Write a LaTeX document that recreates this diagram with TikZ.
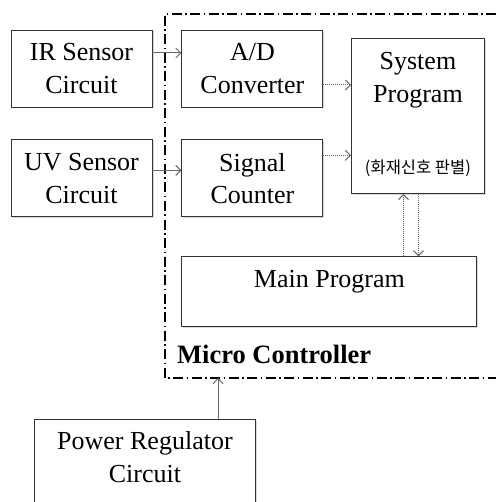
\documentclass[tikz,border=0pt]{standalone}
\usepackage{fontspec}
\setmainfont{Liberation Serif}
\newfontfamily\krfont{Noto Sans CJK KR}
\usetikzlibrary{arrows.meta, positioning, shadows}

\begin{document}
\begin{tikzpicture}[
  x=1pt, y=-1pt,
  node distance=32pt and 29pt,
  box/.style    = {rectangle, draw=black!80, line width=0.9pt, fill=white,
                   drop shadow={shadow xshift=1.5pt, shadow yshift=-1.5pt,
                                opacity=0.3},
                   inner sep=0pt},
  block/.style  = {box, minimum width=141pt, minimum height=77pt,
                   align=center, font=\fontsize{26}{32.5}\selectfont},
  txt/.style    = {inner sep=0pt, align=center,
                   font=\fontsize{26}{32.5}\selectfont},
  kr/.style     = {inner sep=0pt, font=\krfont\fontsize{16.5}{20}\selectfont},
  arrow/.style  = {-{Straight Barb[length=5pt, width=10pt]}, draw=black!60,
                   line width=1pt},
  darrow/.style = {arrow, dash pattern=on 1pt off 1pt},
  mcuframe/.style = {line width=1.6pt,
                     dash pattern=on 10pt off 3.5pt on 1.5pt off 3.5pt},
  mculabel/.style = {inner sep=0pt,
                     font=\fontsize{26.5}{30}\selectfont\bfseries}
]
\useasboundingbox (0,0) rectangle (496,502);

% micro controller frame
\draw[mcuframe] (496,14) -| (165,378) -- (496,378);
\node[mculabel, anchor=base west] (mcu) at (177,363) {Micro Controller};
\coordinate (mcubot) at (218,378);

% sensors and front end
\node[block] (ir) at (81.5,68.5) {IR Sensor\\Circuit};
\node[block, below=of ir] (uv) {UV Sensor\\Circuit};
\node[block, right=of ir] (adc) {A/D\\Converter};
\node[block, right=of uv] (cnt) {Signal\\Counter};

% programs
\node[box, minimum width=133pt, minimum height=155pt, anchor=north west]
  (sys) at (351,38) {};
\node[txt, anchor=north] (systxt) at ([yshift=-14.4pt]sys.north)
  {System\\Program};
\node[kr] (syskr) at ([yshift=26pt]sys.south) {(화재신호 판별)};

\node[box, minimum width=295pt, minimum height=70pt, anchor=north west]
  (main) at ([yshift=-39pt]cnt.south west) {};
\node[txt, anchor=base] (maintxt) at ([yshift=-31pt]main.north)
  {Main Program};

% power supply
\node[box, minimum width=221pt, minimum height=95pt, anchor=north west]
  (power) at (34,419) {};
\node[txt, anchor=north] (powertxt) at ([yshift=-12.6pt]power.north)
  {Power Regulator\\Circuit};

\draw[arrow] ([yshift=15.5pt]ir.east) -- ([yshift=15.5pt]adc.west);
\draw[arrow] ([yshift=8pt]uv.east)    -- ([yshift=8pt]cnt.west);
\draw[darrow] ([yshift=-16.5pt]adc.east) -- ([yshift=-16.5pt]adc.east -| sys.west);
\draw[darrow] ([yshift=23pt]cnt.east)    -- ([yshift=23pt]cnt.east -| sys.west);
\draw[darrow] ([xshift=-14.5pt]sys.south |- main.north) -- ([xshift=-14.5pt]sys.south);
\draw[darrow] ([xshift=0.5pt]sys.south) -- ([xshift=0.5pt]sys.south |- main.north);
\draw[arrow] (power.north -| mcubot) -- (mcubot);

\end{tikzpicture}
\end{document}
